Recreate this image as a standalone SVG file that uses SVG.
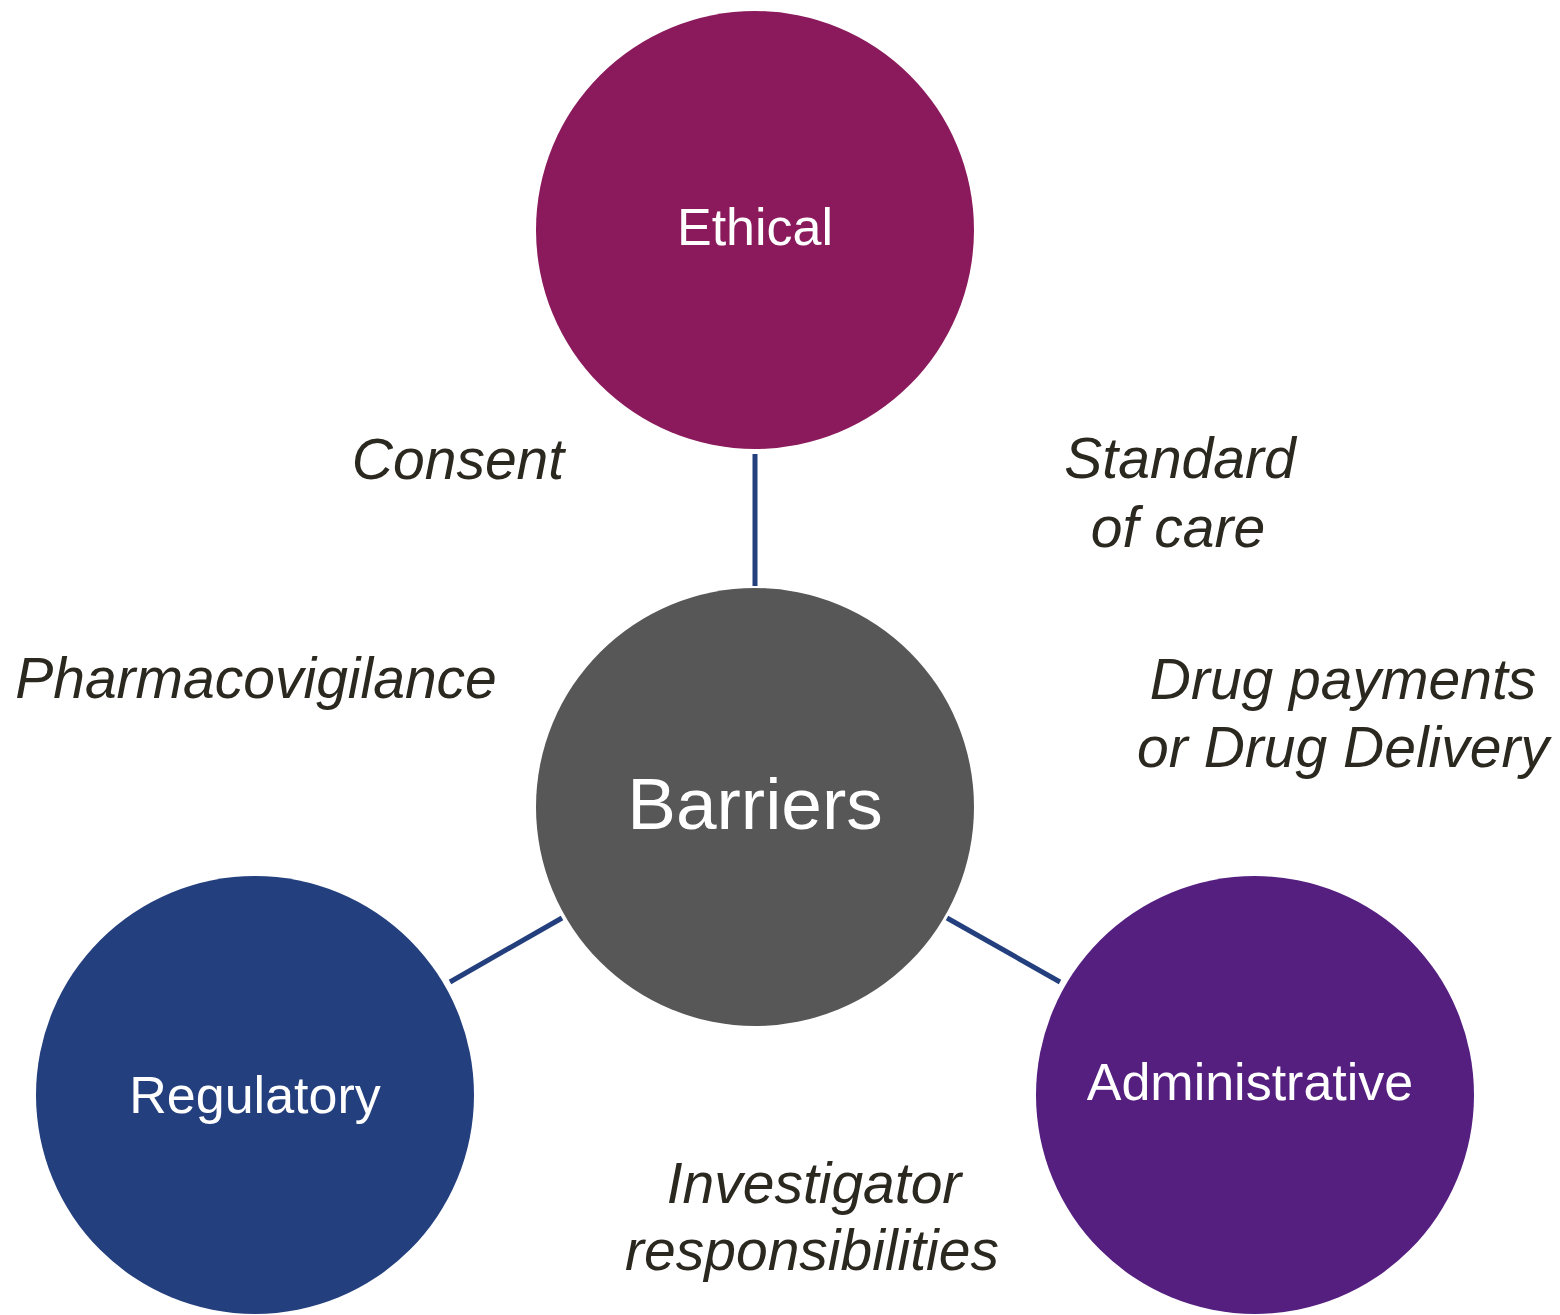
<svg xmlns="http://www.w3.org/2000/svg" width="1560" height="1315" viewBox="0 0 1560 1315">
<style>
.lbl{font-family:"Liberation Sans",Arial,sans-serif;fill:#ffffff;text-anchor:middle}
.note{font-family:"Liberation Sans",Arial,sans-serif;font-style:italic;font-size:57px;fill:#2b281f;text-anchor:middle}
.conn{stroke:#233f7d;stroke-width:5;fill:none}
</style>
<rect width="1560" height="1315" fill="#ffffff"/>
<g id="connectors">
<line class="conn" x1="755" y1="454" x2="755" y2="586"/>
<line class="conn" x1="562" y1="918" x2="450" y2="982"/>
<line class="conn" x1="947" y1="918" x2="1060" y2="982"/>
</g>
<g id="ethical">
<circle cx="755" cy="230" r="219" fill="#8b1a5c"/>
<text class="lbl" x="755" y="245" font-size="52">Ethical</text>
</g>
<g id="barriers">
<circle cx="755" cy="807" r="219" fill="#575757"/>
<text class="lbl" x="755" y="829" font-size="73">Barriers</text>
</g>
<g id="regulatory">
<circle cx="255" cy="1095" r="219" fill="#233f7d"/>
<text class="lbl" x="255" y="1113" font-size="52">Regulatory</text>
</g>
<g id="administrative">
<circle cx="1255" cy="1095" r="219" fill="#551f80"/>
<text class="lbl" x="1250" y="1100" font-size="52">Administrative</text>
</g>
<g id="notes">
<text class="note" x="458" y="479">Consent</text>
<text class="note" x="1180" y="478">Standard</text>
<text class="note" x="1178" y="547">of care</text>
<text class="note" x="256" y="698">Pharmacovigilance</text>
<text class="note" x="1343" y="699">Drug payments</text>
<text class="note" x="1343" y="767">or Drug Delivery</text>
<text class="note" x="814" y="1203">Investigator</text>
<text class="note" x="812" y="1270">responsibilities</text>
</g>
</svg>
